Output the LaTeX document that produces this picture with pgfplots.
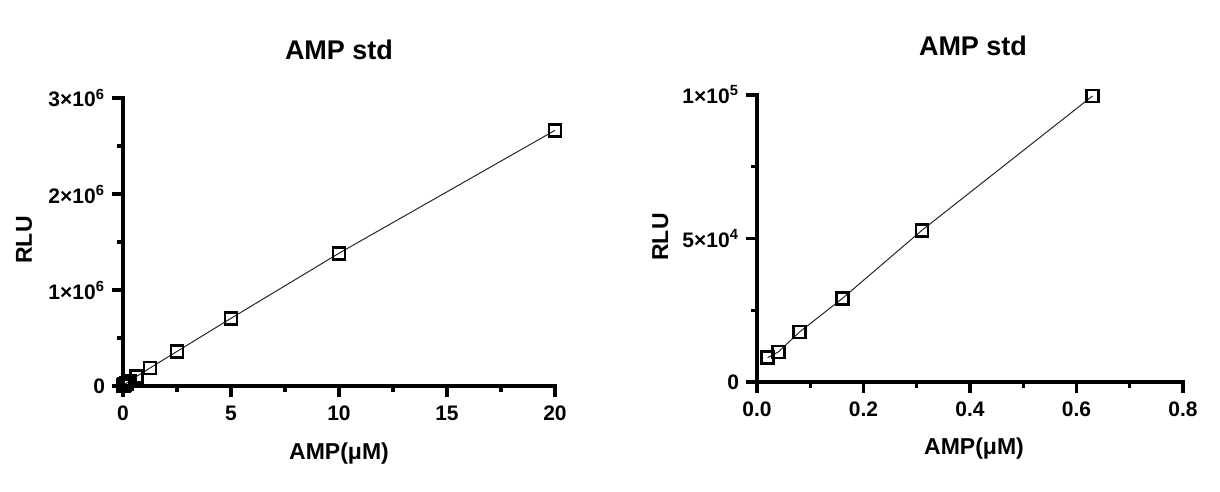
\documentclass[border=0pt]{standalone}
\usepackage{pgfplots}
\pgfplotsset{compat=1.18}
\usepackage{fontspec}
\setmainfont{Liberation Sans}
\begin{document}
\begin{tikzpicture}[x=1pt,y=1pt]
\path[use as bounding box] (0,0) rectangle (610,246);
\pgfplotsset{gp/.style={
  scale only axis, axis lines=left, axis line style={-, line width=1.6pt, line cap=rect},
  enlargelimits=false, scaled ticks=false,
  tick align=outside, major tick length=5.5pt, minor tick length=2.8pt,
  tick style={black, line width=1.6pt},
  tick label style={font=\bfseries\fontsize{10.5}{11}\selectfont},
  clip=false, minor x tick num=1, minor y tick num=1,
  xticklabel style={yshift=-1pt},
},
gpline/.style={black!85, line width=0.5pt, mark=square, mark size=3pt,
    mark options={solid, black, line width=1.4pt}}}
\begin{axis}[gp, at={(61.5pt,53pt)}, anchor=south west, width=216pt, height=144pt,
  xmin=0, xmax=20, ymin=0, ymax=3000000,
  xtick={0,5,10,15,20}, xticklabels={0,5,10,15,20},
  ytick={0,1000000,2000000,3000000},
  yticklabels={0,1×10\textsuperscript{6},2×10\textsuperscript{6},3×10\textsuperscript{6}}]
\addplot[gpline] coordinates {
(0.02,8490) (0.04,10470) (0.08,17440) (0.16,29070) (0.31,52900) (0.63,99650)
(1.25,187500) (2.5,360000) (5,705000) (10,1383000) (20,2663000)};
\end{axis}
\begin{axis}[gp, at={(378.5pt,55pt)}, anchor=south west, width=213pt, height=143.5pt,
  xmin=0, xmax=0.8, ymin=0, ymax=100000,
  xtick={0,0.2,0.4,0.6,0.8}, xticklabels={0.0,0.2,0.4,0.6,0.8},
  ytick={0,50000,100000},
  yticklabels={0,5×10\textsuperscript{4},1×10\textsuperscript{5}}]
\addplot[gpline] coordinates {
(0.02,8490) (0.04,10470) (0.08,17440) (0.16,29070) (0.31,52900) (0.63,99650)};
\end{axis}
\begin{scope}[every node/.style={font=\bfseries}]
\node[anchor=base, font=\bfseries\fontsize{13.5}{14}\selectfont] at (169.5,216) {AMP std};
\node[anchor=base, font=\bfseries\fontsize{13.5}{14}\selectfont] at (486.5,218) {AMP std};
\node[anchor=base, font=\bfseries\fontsize{11.5}{12}\selectfont] at (169.5,16) {AMP(μM)};
\node[anchor=base, font=\bfseries\fontsize{11.5}{12}\selectfont] at (487,18.5) {AMP(μM)};
\node[anchor=base, rotate=90, font=\bfseries\fontsize{11.5}{12}\selectfont] at (16,126) {RLU};
\node[anchor=base, rotate=90, font=\bfseries\fontsize{11.5}{12}\selectfont] at (334,127.5) {RLU};
\end{scope}
\end{tikzpicture}
\end{document}
